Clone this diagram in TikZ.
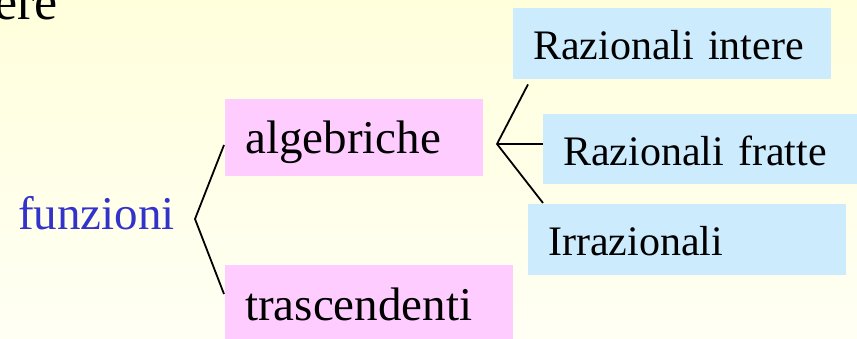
\documentclass[tikz,border=0pt]{standalone}
\usepackage{fontspec}
\setmainfont{Liberation Serif}
\usetikzlibrary{calc}
\definecolor{bgtop}{HTML}{FFFFDC}
\definecolor{bgbot}{HTML}{FFFFF4}
\definecolor{pinkbox}{HTML}{FFCCFF}
\definecolor{bluebox}{HTML}{CCEBFD}
\definecolor{funblue}{HTML}{3333CC}
\tikzset{
  bigtxt/.style={font=\fontsize{47}{56}\selectfont},
  smalltxt/.style={font=\fontsize{42}{50}\selectfont},
  catbox/.style={bigtxt, fill=pinkbox, anchor=north west, inner xsep=20pt, inner ysep=0pt, align=left},
  subbox/.style={smalltxt, fill=bluebox, anchor=north west, inner xsep=20pt, inner ysep=0pt, align=left},
  branch/.style={draw=black, line width=1.8pt, line join=miter}
}
\begin{document}
\begin{tikzpicture}[x=1pt, y=-1pt]
  \useasboundingbox (0,0) rectangle (857,339);
  \clip (0,0) rectangle (857,339);
  % page background
  \shade[top color=bgtop, bottom color=bgbot] (0,0) rectangle (857,339);

  % tail of the slide title
  \node[font=\fontsize{52}{60}\selectfont, anchor=base east, inner sep=0pt] (title) at (58,20) {ere};

  % root
  \node[bigtxt, text=funblue, anchor=base west, inner sep=0pt] (fun) at (18,230) {funzioni};

  % first level
  \node[catbox, text width=218pt, text height=54pt, text depth=23pt] (alg) at (225,99) {algebriche};
  \node[catbox, text width=248pt, text height=55pt, text depth=21pt] (tra) at (225,265) {trascendenti};

  % second level
  \node[subbox, text width=278pt, text height=51pt, text depth=20pt] (ri) at (513,8) {Razionali intere};
  \node[subbox, text width=280pt, text height=51pt, text depth=19pt] (rf) at (543,114) {Razionali fratte};
  \node[subbox, text width=278pt, text height=51pt, text depth=20pt] (irr) at (528,204) {Irrazionali};

  % branching brackets
  \coordinate (fv) at (195,219);
  \coordinate (av) at (497,144);
  \draw[branch] ($(alg.north west)+(-1,46)$) -- (fv) -- ($(tra.north west)+(-1,29)$);
  \draw[branch] ($(ri.south west)+(15,5)$) -- (av) -- ($(irr.north west)+(15,-1)$);
  \draw[branch] (av) -- ($(rf.north west)+(0,30)$);
\end{tikzpicture}
\end{document}
